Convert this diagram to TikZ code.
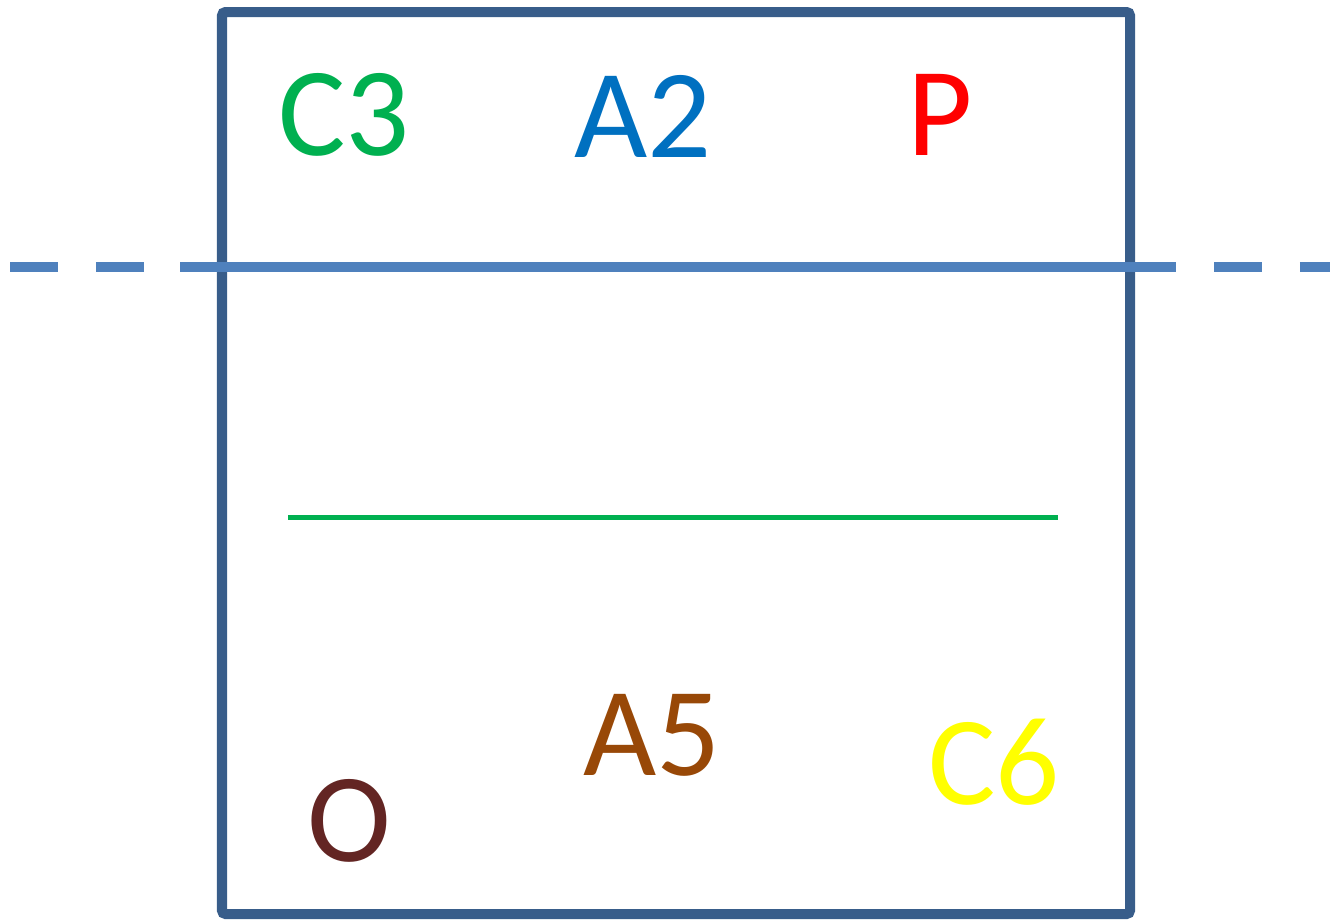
\documentclass[tikz,border=0pt]{standalone}
\usepackage{fontspec}
\setmainfont{Carlito}
\usepackage{xcolor}
\definecolor{boxblue}  {RGB}{ 56, 93,138}
\definecolor{axisblue} {RGB}{ 79,129,189}
\definecolor{lblgreen} {RGB}{  0,176, 80}
\definecolor{lblblue}  {RGB}{  0,112,192}
\definecolor{lblred}   {RGB}{255,  0,  0}
\definecolor{lblbrown} {RGB}{152, 72,  7}
\definecolor{lbldark}  {RGB}{ 99, 37, 35}
\definecolor{lblyellow}{RGB}{255,255,  0}

\begin{document}
\begin{tikzpicture}[
    x=0.02cm, y=-0.02cm,
    frame/.style={draw=boxblue, line width=5.7pt, rounded corners=2pt},
    axis/.style={draw=axisblue, line width=5.7pt},
    axisdash/.style={axis, dash pattern=on 0.96cm off 0.76cm},
    lbl/.style={anchor=base, inner sep=0pt, font=\fontsize{72}{80}\selectfont}
]
    \useasboundingbox (0,0) rectangle (1330,921);
    % frame
    \draw[frame] (222,12) rectangle (1130,914);
    % axis line, dashed outside the frame
    \coordinate (axl) at (10,267);
    \coordinate (axml) at (180,267);
    \coordinate (axmr) at (1176,267);
    \coordinate (axdr) at (1214,267);
    \coordinate (axr) at (1330,267);
    \draw[axisdash] (axl) -- (axml);
    \draw[axis] (axml) -- (axmr);
    \draw[axisdash] (axdr) -- (axr);
    % green line
    \coordinate (gl) at (288,517);
    \coordinate (gr) at (1058,517);
    \draw[draw=lblgreen, line width=2.85pt] (gl) -- (gr);
    % labels
    \node[lbl, text=lblgreen]  (c3) at (344,155) {C3};
    \node[lbl, text=lblblue]   (a2) at (643,157) {A2};
    \node[lbl, text=lblred]    (p)  at (940,155) {P};
    \node[lbl, text=lblbrown]  (a5) at (652,775) {A5};
    \node[lbl, text=lbldark]   (o)  at (349,861) {O};
    \node[lbl, text=lblyellow] (c6) at (994,804) {C6};
\end{tikzpicture}
\end{document}
